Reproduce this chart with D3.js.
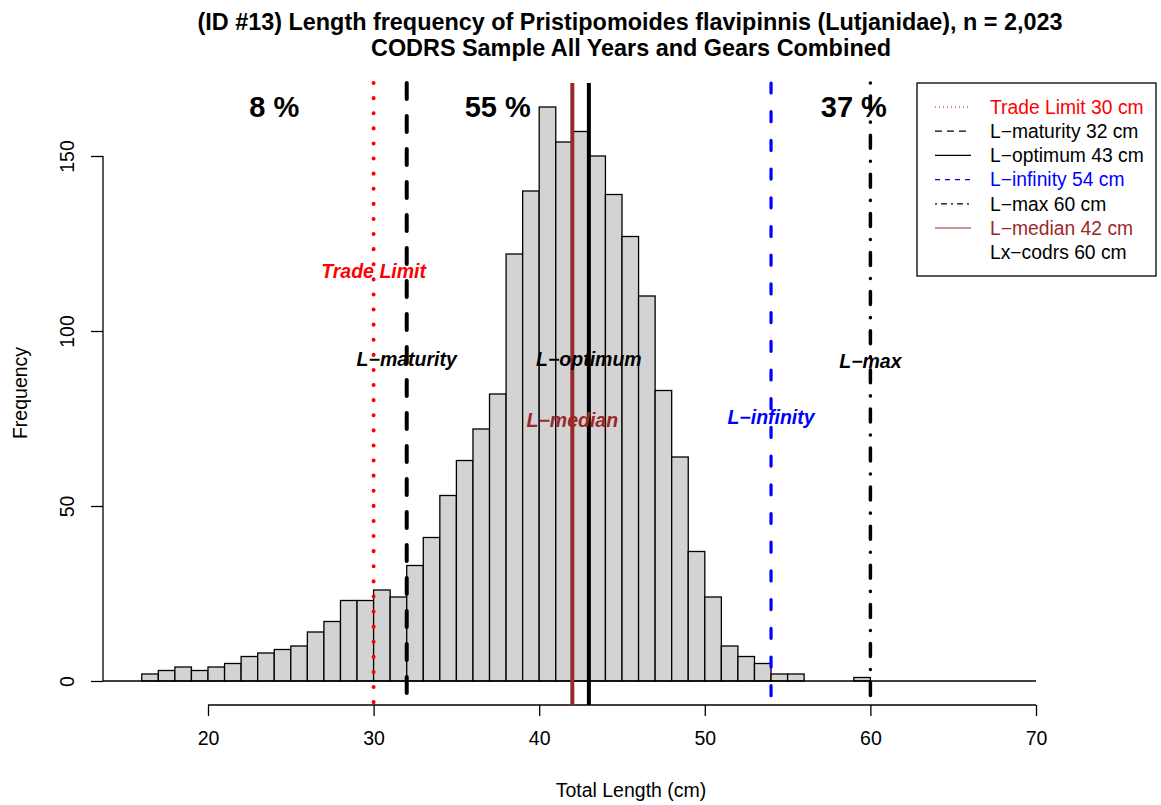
<!DOCTYPE html>
<html>
<head>
<meta charset="utf-8">
<script src="https://cdn.jsdelivr.net/npm/d3@7"></script>
<style>
  body { margin: 0; background: #fff; }
  text { font-family: "Liberation Sans", Arial, Helvetica, sans-serif; }
</style>
</head>
<body>
<div id="chart"></div>
<script>
// histogram bins (lower edge, cm) and counts
var binStarts = [16, 17, 18, 19, 20, 21, 22, 23, 24, 25, 26, 27, 28, 29, 30, 31, 32, 33, 34, 35,
  36, 37, 38, 39, 40, 41, 42, 43, 44, 45, 46, 47, 48, 49, 50, 51, 52, 53, 54, 55, 59];
var counts = [2, 3, 4, 3, 4, 5, 7, 8, 9, 10, 14, 17, 23, 23, 26, 24, 33, 41, 53, 63,
  72, 82, 122, 140, 164, 154, 157, 150, 139, 127, 110, 83, 64, 37, 24, 10, 7, 5, 2, 2, 1];

// reference lengths
var refNames = ['Trade Limit', 'L\u2212maturity', 'L\u2212optimum', 'L\u2212infinity', 'L\u2212max', 'L\u2212median'];
var refValues = [30, 32, 43, 54, 60, 42];

// legend entries
var legendLabels = ['Trade Limit 30 cm', 'L\u2212maturity 32 cm', 'L\u2212optimum 43 cm', 'L\u2212infinity 54 cm',
  'L\u2212max 60 cm', 'L\u2212median 42 cm', 'Lx\u2212codrs 60 cm'];

var pctLabels = ['8 %', '55 %', '37 %'];
var xTicks = [20, 30, 40, 50, 60, 70];
var yTicks = [0, 50, 100, 150];

var width = 1161, height = 805;

var svg = d3.select('#chart')
  .append('svg')
  .attr('width', width)
  .attr('height', height);

var x = d3.scaleLinear().domain([20, 70]).range([208, 1036]);
var y = d3.scaleLinear().domain([0, 150]).range([681, 156]);

// line styles for each reference line (same order as refNames)
var brown = '#992a2a';
var refStyle = [
  { color: '#ff0000', w: 4, dash: '0.1,15', cap: 'round', ly: 117, lcolor: '#ff0000' },
  { color: '#000', w: 4, dash: '16,17', cap: 'round', ly: 92, lcolor: '#000' },
  { color: '#000', w: 4, dash: null, cap: 'butt', ly: 92, lcolor: '#000' },
  { color: '#0000ff', w: 3.2, dash: '10,18.7', cap: 'round', ly: 75.5, lcolor: '#0000ff' },
  { color: '#000', w: 3.5, dash: '0.1,13,13,13', cap: 'round', ly: 91.5, lcolor: '#000' },
  { color: brown, w: 4, dash: null, cap: 'butt', ly: 74.5, lcolor: brown }
];

// title
svg.append('text')
  .attr('x', 630).attr('y', 30)
  .attr('text-anchor', 'middle')
  .style('font-size', '23.4px').style('font-weight', 'bold')
  .text('(ID #13) Length frequency of Pristipomoides flavipinnis (Lutjanidae), n = 2,023');
svg.append('text')
  .attr('x', 631).attr('y', 56)
  .attr('text-anchor', 'middle')
  .style('font-size', '23.4px').style('font-weight', 'bold')
  .text('CODRS Sample All Years and Gears Combined');

// bars
svg.selectAll('.bar')
  .data(binStarts)
  .enter()
  .append('rect')
  .attr('class', 'bar')
  .attr('x', function(d) { return x(d); })
  .attr('width', function(d) { return x(d + 1) - x(d); })
  .attr('y', function(d, i) { return y(counts[i]); })
  .attr('height', function(d, i) { return y(0) - y(counts[i]); })
  .attr('fill', '#d3d3d3')
  .attr('stroke', '#000')
  .attr('stroke-width', 1.3);

// zero line
svg.append('line')
  .attr('x1', 103).attr('x2', x(70))
  .attr('y1', y(0)).attr('y2', y(0))
  .attr('stroke', '#000').attr('stroke-width', 1.3);

// x axis
var xAxis = svg.append('g')
  .attr('transform', 'translate(0,705)')
  .call(d3.axisBottom(x).tickValues(xTicks).tickSize(11).tickPadding(15));
xAxis.selectAll('text').style('font-size', '19.5px').attr('fill', '#000');
xAxis.selectAll('path, line').attr('stroke', '#000').attr('stroke-width', 1.3);
xAxis.select('.domain').attr('d', 'M' + x(20) + ',0H' + x(70));

svg.append('text')
  .attr('x', 631).attr('y', 797)
  .attr('text-anchor', 'middle')
  .style('font-size', '19.5px')
  .text('Total Length (cm)');

// y axis
var yAxis = svg.append('g')
  .attr('transform', 'translate(103,0)')
  .call(d3.axisLeft(y).tickValues(yTicks).tickSize(12).tickPadding(8));
yAxis.selectAll('path, line').attr('stroke', '#000').attr('stroke-width', 1.3);
yAxis.select('.domain').attr('d', 'M0,' + y(0) + 'V' + y(150));
yAxis.selectAll('.tick text')
  .style('font-size', '19.5px')
  .attr('fill', '#000')
  .attr('text-anchor', 'middle')
  .attr('x', 0).attr('y', 0).attr('dy', 0)
  .attr('transform', 'translate(-29,0) rotate(-90)');

svg.append('text')
  .attr('transform', 'translate(27,393) rotate(-90)')
  .attr('text-anchor', 'middle')
  .style('font-size', '19.5px')
  .text('Frequency');

// reference lines
svg.selectAll('.ref')
  .data(refValues)
  .enter()
  .append('line')
  .attr('class', 'ref')
  .attr('x1', function(d) { return x(d); })
  .attr('x2', function(d) { return x(d); })
  .attr('y1', 83)
  .attr('y2', 705)
  .attr('stroke', function(d, i) { return refStyle[i].color; })
  .attr('stroke-width', function(d, i) { return refStyle[i].w; })
  .attr('stroke-linecap', function(d, i) { return refStyle[i].cap; })
  .attr('stroke-dasharray', function(d, i) { return refStyle[i].dash; });

// reference labels
svg.selectAll('.refLabel')
  .data(refValues)
  .enter()
  .append('text')
  .attr('class', 'refLabel')
  .attr('x', function(d) { return x(d); })
  .attr('y', function(d, i) { return y(refStyle[i].ly); })
  .attr('dy', '0.35em')
  .attr('text-anchor', 'middle')
  .style('font-size', '19.5px')
  .style('font-weight', 'bold')
  .style('font-style', 'italic')
  .attr('fill', function(d, i) { return refStyle[i].lcolor; })
  .text(function(d, i) { return refNames[i]; });

// percentages
var pctPos = [24, 37.5, 59];
svg.selectAll('.pct')
  .data(pctLabels)
  .enter()
  .append('text')
  .attr('class', 'pct')
  .attr('x', function(d, i) { return x(pctPos[i]); })
  .attr('y', 117)
  .attr('text-anchor', 'middle')
  .style('font-size', '29px')
  .style('font-weight', 'bold')
  .text(function(d) { return d; });

// legend
var legend = svg.append('g').attr('transform', 'translate(917,83)');
legend.append('rect')
  .attr('width', 239).attr('height', 193)
  .attr('fill', '#fff').attr('stroke', '#000').attr('stroke-width', 1.3);

var legendStyle = [
  { color: '#ff0000', dash: '1,3', tcolor: '#ff0000' },
  { color: '#000', dash: '7,5', tcolor: '#000' },
  { color: '#000', dash: null, tcolor: '#000' },
  { color: '#0000ff', dash: '5,5', tcolor: '#0000ff' },
  { color: '#000', dash: '2,4,6,4', tcolor: '#000' },
  { color: brown, dash: null, tcolor: brown },
  { color: 'none', dash: null, tcolor: '#000' }
];

var rows = legend.selectAll('.row')
  .data(legendLabels)
  .enter()
  .append('g')
  .attr('class', 'row')
  .attr('transform', function(d, i) { return 'translate(0,' + (24 + i * 24.2) + ')'; });

rows.append('line')
  .attr('x1', 18).attr('x2', 54)
  .attr('stroke', function(d, i) { return legendStyle[i].color; })
  .attr('stroke-width', 1.2)
  .attr('stroke-dasharray', function(d, i) { return legendStyle[i].dash; });

rows.append('text')
  .attr('x', 73)
  .attr('dy', '0.35em')
  .style('font-size', '19.3px')
  .attr('fill', function(d, i) { return legendStyle[i].tcolor; })
  .text(function(d) { return d; });
</script>
</body>
</html>
